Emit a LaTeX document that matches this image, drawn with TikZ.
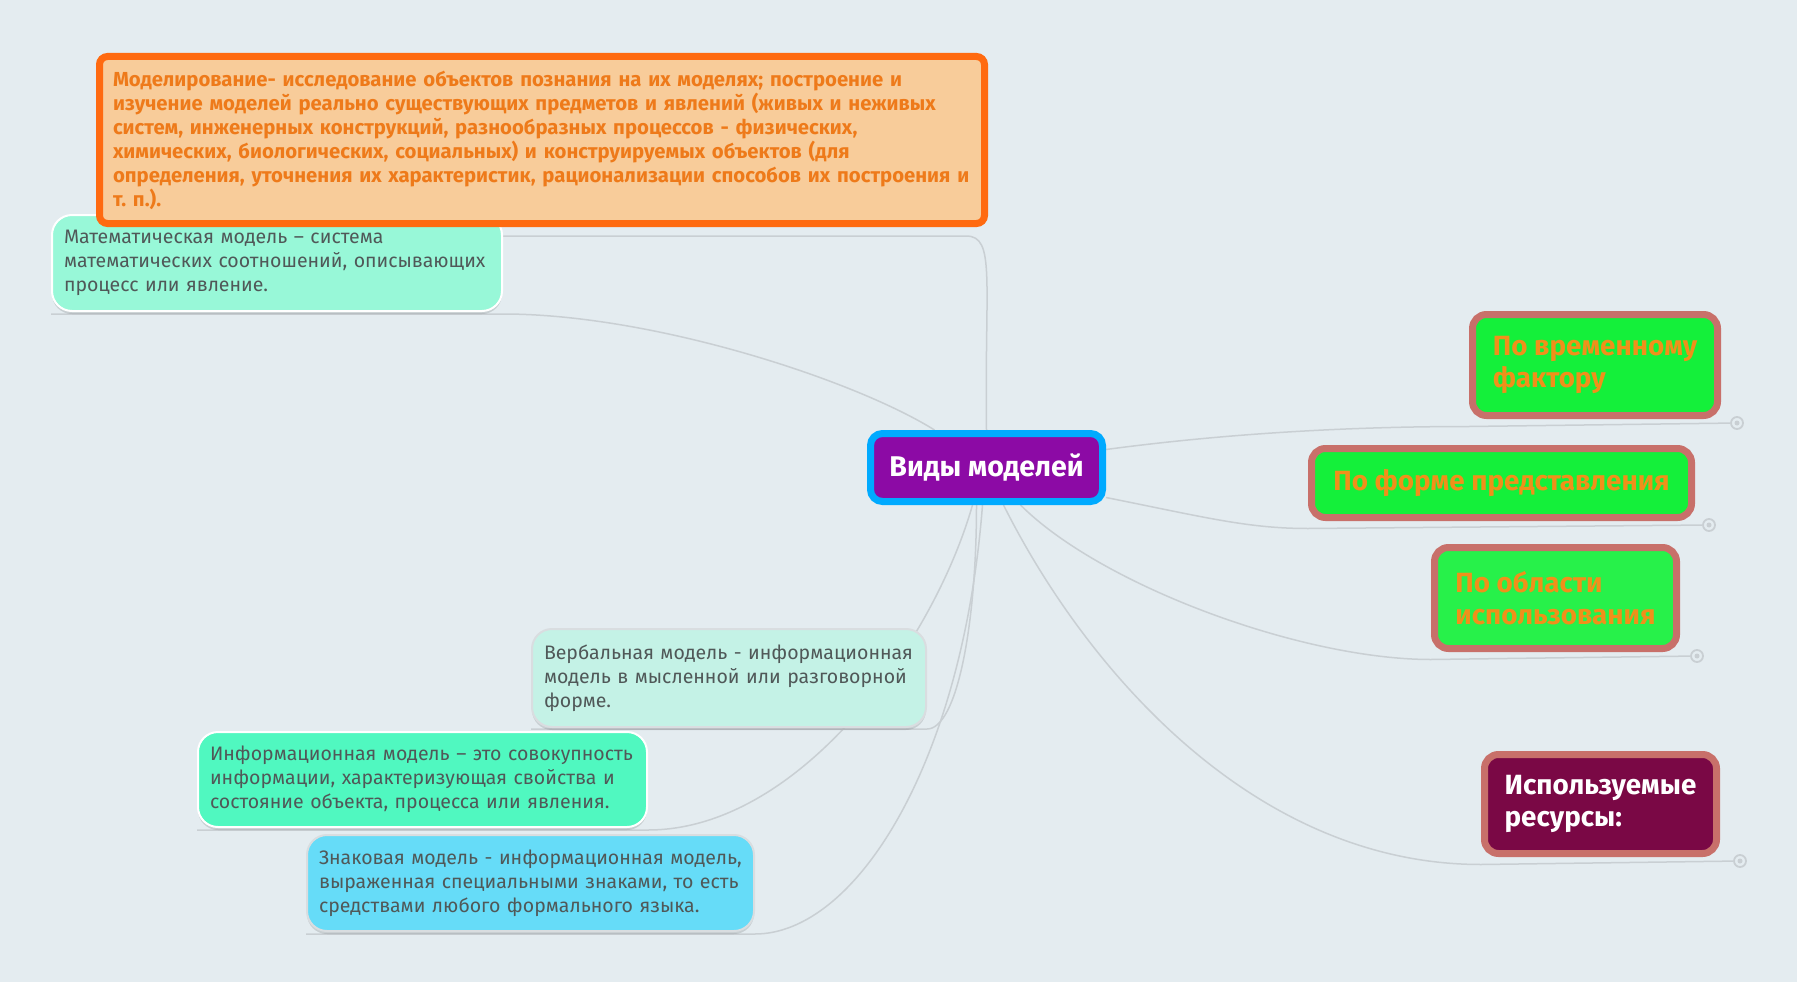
\documentclass[tikz,border=0pt]{standalone}
\usepackage{fontspec}
\setmainfont{Fira Sans}
\usetikzlibrary{positioning,shadows}
\frenchspacing

\definecolor{bgcol}{HTML}{E4ECF0}
\definecolor{linecol}{HTML}{C9CFD3}
\definecolor{bodygray}{HTML}{505858}
\definecolor{topfill}{HTML}{F8CC9A}
\definecolor{topdraw}{HTML}{FF6A10}
\definecolor{toptext}{HTML}{EE7A1A}
\definecolor{mainfill}{HTML}{8C0AA5}
\definecolor{maindraw}{HTML}{00AAFF}
\definecolor{kindfill}{HTML}{14F03A}
\definecolor{kinddraw}{HTML}{C8706A}
\definecolor{kindtext}{HTML}{F0901A}
\definecolor{resfill}{HTML}{7A0845}
\definecolor{mathfill}{HTML}{98F8D8}
\definecolor{infofill}{HTML}{50F8C0}
\definecolor{verbfill}{HTML}{C4F2E6}
\definecolor{signfill}{HTML}{66DCF8}

\pgfdeclarelayer{bg}
\pgfsetlayers{bg,main}

\tikzset{
  branch/.style={draw=linecol, line width=1.5pt},
  enddot/.style={circle, draw=linecol, line width=1.8pt, fill=bgcol, minimum size=12pt, inner sep=0pt},
  softshadow/.style={drop shadow={shadow xshift=0pt, shadow yshift=-3pt, opacity=0.12, fill=black}},
  notebox/.style={rectangle, rounded corners=20pt, draw=white, line width=2pt, text=bodygray, softshadow,
    align=left, inner xsep=12pt, inner ysep=0pt, font=\fontsize{19.5}{24}\selectfont},
  kindbox/.style={rectangle, rounded corners=14pt, draw=kinddraw, line width=7pt, fill=kindfill, softshadow,
    text=kindtext, align=left, inner xsep=0pt, inner ysep=0pt, font=\bfseries\fontsize{27.8}{32}\selectfont}
}

\begin{document}
\begin{tikzpicture}[x=1pt,y=-1pt]
	% Background
	\begin{pgfonlayer}{bg}
		\fill[bgcol] (0,0) rectangle (1797,982);
	\end{pgfonlayer}
	\useasboundingbox (0,0) rectangle (1797,982);

	% Centre topic
	\node[rectangle, rounded corners=12pt, draw=maindraw, line width=7pt, fill=mainfill, text=white, softshadow,
		font=\bfseries\fontsize{28.5}{32}\selectfont, minimum width=232pt, minimum height=68pt]
		(models) at (986.5,467.5) {Виды моделей};

	% Left notes
	\node[notebox, fill=mathfill, text width=426pt, minimum height=96pt] (math) at (277,263)
		{Математическая модель – система\\математических соотношений, описывающих\\процесс или явление.};
	\node[rectangle, rounded corners=8pt, draw=topdraw, line width=7pt, fill=topfill, text=toptext, softshadow,
		align=left, inner xsep=13.5pt, inner ysep=0pt, text width=858pt, minimum height=167pt,
		font=\bfseries\fontsize{20.3}{24}\selectfont] (modeling) at (542,140)
		{Моделирование- исследование объектов познания на их моделях; построение и\\
		изучение моделей реально существующих предметов и явлений (живых и неживых\\
		систем, инженерных конструкций, разнообразных процессов - физических,\\
		химических, биологических, социальных) и конструируемых объектов (для\\
		определения, уточнения их характеристик, рационализации способов их построения и\\
		т. п.).};
	\node[notebox, fill=verbfill, draw=linecol!70, text width=370pt, minimum height=98pt] (verbal) at (729,678)
		{Вербальная модель - информационная\\модель в мысленной или разговорной\\форме.};
	\node[notebox, fill=infofill, text width=425pt, minimum height=95pt] (info) at (422.5,779.5)
		{Информационная модель – это совокупность\\информации, характеризующая свойства и\\состояние объекта, процесса или явления.};
	\node[notebox, fill=signfill, draw=linecol!70, text width=423pt, minimum height=96pt] (sign) at (530.5,883)
		{Знаковая модель - информационная модель,\\выраженная специальными знаками, то есть\\средствами любого формального языка.};

	% Right topics
	\node[kindbox, minimum width=245pt, minimum height=101pt] (time) at (1595,365) {По временному\\фактору};
	\node[kindbox, minimum width=380pt, minimum height=69pt] (form) at (1501.5,483) {По форме представления};
	\node[kindbox, fill=kindfill!92!white, minimum width=242pt, minimum height=101pt] (area) at (1555.5,598) {По области\\использования};
	\node[kindbox, fill=resfill, text=white, minimum width=232pt, minimum height=99pt] (res) at (1600.5,804) {Используемые\\ресурсы:};

	% End dots
	\node[enddot] (timedot) at (1737,423) {};
	\node[enddot] (formdot) at (1709,525) {};
	\node[enddot] (areadot) at (1697,656) {};
	\node[enddot] (resdot) at (1740,861) {};
	\foreach \d in {timedot,formdot,areadot,resdot}
		\fill[linecol] (\d) circle (2.5pt);

	% Draw branches
	\begin{pgfonlayer}{bg}
		\draw[branch] (models.north) .. controls +(-2,-150) and +(30,0) .. ([xshift=-22pt,yshift=-9pt]modeling.south east) -- ([yshift=-9pt]modeling.south west);
		\draw[branch] ([xshift=-52pt]models.north) .. controls +(-80,-50) and +(150,0) .. ([yshift=-2pt]math.south east) -- ([yshift=-2pt]math.south west);
		\draw[branch] ([xshift=-10pt]models.south) .. controls +(0,120) and +(30,0) .. ([yshift=-1pt]verbal.south east) -- ([yshift=-1pt]verbal.south west);
		\draw[branch] ([xshift=-14pt]models.south) .. controls +(-40,140) and +(150,0) .. ([yshift=-2pt]info.south east) -- ([yshift=-2pt]info.south west);
		\draw[branch] ([xshift=-4pt]models.south) .. controls +(-20,260) and +(100,0) .. ([yshift=-2pt]sign.south east) -- ([yshift=-2pt]sign.south west);
		\draw[branch] ([yshift=18pt]models.east) .. controls +(150,-20) and +(-80,0) .. ([yshift=-7.5pt]time.south west) -- (timedot);
		\draw[branch] ([yshift=-30pt]models.east) .. controls +(100,20) and +(-60,0) .. ([yshift=-7.5pt]form.south west) -- (formdot);
		\draw[branch] ([xshift=34pt]models.south) .. controls +(80,80) and +(-130,0) .. ([yshift=-7.5pt]area.south west) -- (areadot);
		\draw[branch] ([xshift=17pt]models.south) .. controls +(80,160) and +(-230,0) .. ([yshift=-7.5pt]res.south west) -- (resdot);
	\end{pgfonlayer}
\end{tikzpicture}
\end{document}
